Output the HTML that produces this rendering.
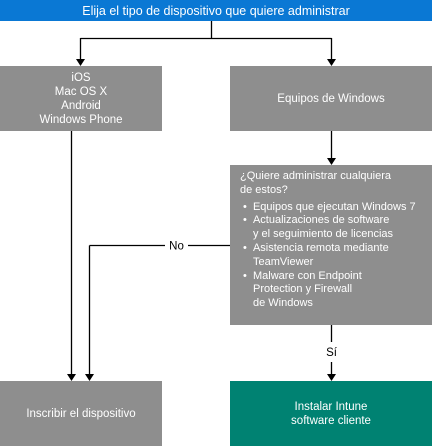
<!DOCTYPE html>
<html><head><meta charset="utf-8"><style>
body{margin:0;width:432px;height:446px;position:relative;background:#fff;font-family:"Liberation Sans",sans-serif;overflow:hidden}
.b{position:absolute;background:#8e8e8e;color:#fff;font-size:11.5px;display:flex;align-items:center;justify-content:center;text-align:center;line-height:14px}
svg{position:absolute;left:0;top:0}
.q div{padding-left:13px;text-indent:-10px;white-space:nowrap}
</style></head><body>
<div class="b" style="left:0;top:0;width:432px;height:21px;background:#0a78d4;font-size:12.5px">Elija el tipo de dispositivo que quiere administrar</div>
<div class="b" style="left:0;top:66px;width:162px;height:65px">iOS<br>Mac OS X<br>Android<br>Windows Phone</div>
<div class="b" style="left:230px;top:66px;width:202px;height:65px">Equipos de Windows</div>
<div class="b q" style="left:230px;top:165px;width:202px;height:160px;display:block;text-align:left;padding:5px 0 0 10px;box-sizing:border-box;font-size:11px;line-height:13.8px;white-space:nowrap">¿Quiere administrar cualquiera<br>de estos?
<div style="margin-top:3px">•&nbsp;&nbsp;Equipos que ejecutan Windows 7</div><div>•&nbsp;&nbsp;Actualizaciones de software<br>y el seguimiento de licencias</div><div>•&nbsp;&nbsp;Asistencia remota mediante<br>TeamViewer</div><div>•&nbsp;&nbsp;Malware con Endpoint<br>Protection y Firewall<br>de Windows</div></div>
<div class="b" style="left:0;top:381px;width:162px;height:65px">Inscribir el dispositivo</div>
<div class="b" style="left:230px;top:381px;width:202px;height:65px;background:#008272">Instalar Intune<br>software cliente</div>
<svg width="432" height="446">
<g stroke="#000" stroke-width="1.3" fill="none">
<path d="M211.5 21V38.5M80.5 38.5H331.5M80.5 38V60M331.5 38V60"/>
<path d="M71.5 131V375M331.5 131V159M89.5 245.5V375M89.5 245.5H165M188 245.5H230"/>
<path d="M331.5 325V342M331.5 362V375"/>
</g>
<g fill="#000">
<path d="M76 59h9l-4.5 7z"/><path d="M327 59h9l-4.5 7z"/><path d="M327 158h9l-4.5 7z"/>
<path d="M67 374h9l-4.5 7z"/><path d="M85 374h9l-4.5 7z"/><path d="M327 374h9l-4.5 7z"/>
</g>
<text x="176.5" y="249.5" font-size="11.5" text-anchor="middle" font-family="Liberation Sans">No</text>
<text x="331.5" y="356" font-size="11.5" text-anchor="middle" font-family="Liberation Sans">Sí</text>
</svg>
</body></html>
